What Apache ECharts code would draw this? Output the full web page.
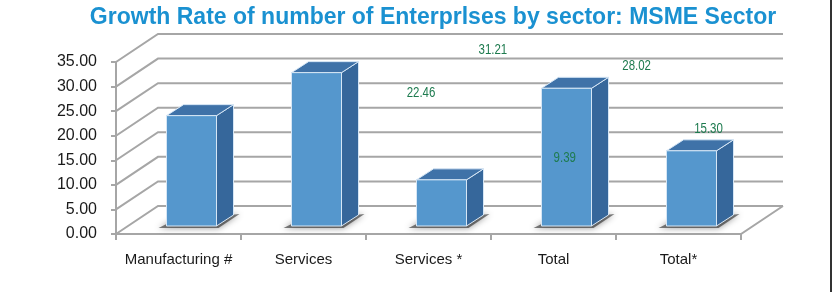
<!DOCTYPE html>
<html>
<head>
<meta charset="utf-8">
<script src="https://cdn.jsdelivr.net/npm/echarts@6/dist/echarts.min.js"></script>
<style>
  html, body { margin: 0; padding: 0; background: #ffffff; }
  #chart { width: 838px; height: 292px; }
</style>
</head>
<body>
<div id="chart"></div>
<script>
const categories = ['Manufacturing #', 'Services', 'Services *', 'Total', 'Total*']
const growthRates = [22.46, 31.21, 9.39, 28.02, 15.30]
const valueLabels = ['22.46', '31.21', '9.39', '28.02', '15.30']
const yTicks = [0, 5, 10, 15, 20, 25, 30, 35]

// 3d look: wall depth and bar depth in px
const WALL_DX = 42
const WALL_DY = -28
const BAR_DX = 17
const BAR_DY = -11
const GRID_COLOR = '#a6a6a6'

const chart = echarts.init(document.getElementById('chart'))

const renderWalls = (params, api) => {
  const v = api.value(0)
  const cs = params.coordSys
  const y = api.coord([0, v])[1]
  const left = cs.x
  const right = cs.x + cs.width
  const children = [
    {
      type: 'polyline',
      shape: { points: [[left, y], [left + WALL_DX, y + WALL_DY], [right + WALL_DX, y + WALL_DY]] },
      style: { stroke: GRID_COLOR, lineWidth: 2, fill: null }
    }
  ]
  if (v === 0) {
    children.push({
      type: 'polyline',
      shape: { points: [[left, y], [right, y], [right + WALL_DX, y + WALL_DY]] },
      style: { stroke: GRID_COLOR, lineWidth: 2, fill: null }
    })
  }
  return { type: 'group', children }
}

const renderBar = (params, api) => {
  const i = api.value(0)
  const v = api.value(1)
  const base = api.coord([i, 0])
  const top = api.coord([i, v])
  const bw = api.size([1, 0])[0] * 0.4
  const ox = 13
  const oy = -8
  const x0 = base[0] - bw / 2 + ox
  const x1 = x0 + bw
  const yb = base[1] + oy
  const yt = top[1] + oy
  const edge = { stroke: '#d6e6f5', lineWidth: 1 }
  return {
    type: 'group',
    children: [
      {
        type: 'polygon',
        shape: { points: [[x0 - 8, yb + 2], [x1 + 2, yb + 2], [x1 + BAR_DX + 6, yb + BAR_DY - 1], [x0 + 6, yb - 5]] },
        style: { fill: 'rgba(40,40,40,0.6)', shadowBlur: 6, shadowColor: 'rgba(0,0,0,0.7)' }
      },
      {
        type: 'polygon',
        shape: { points: [[x1, yb], [x1 + BAR_DX, yb + BAR_DY], [x1 + BAR_DX, yt + BAR_DY], [x1, yt]] },
        style: Object.assign({ fill: '#36679b' }, edge)
      },
      {
        type: 'polygon',
        shape: { points: [[x0, yt], [x0 + BAR_DX, yt + BAR_DY], [x1 + BAR_DX, yt + BAR_DY], [x1, yt]] },
        style: Object.assign({ fill: '#3f72a8' }, edge)
      },
      {
        type: 'rect',
        shape: { x: x0, y: yt, width: bw, height: yb - yt },
        style: Object.assign({ fill: '#5597cd' }, edge)
      }
    ]
  }
}

const renderLabel = (params, api) => {
  const i = api.value(0)
  const v = api.value(1)
  const cs = params.coordSys
  // the source puts its labels off the bars, spread between Services * and Total*
  const x = cs.x + cs.width * (0.488 + 0.115 * i)
  const y = api.coord([i, v])[1] + WALL_DY - 2
  return {
    type: 'text',
    x: x,
    y: y,
    scaleX: 0.82,
    style: {
      text: valueLabels[i],
      fill: '#1e7b4f',
      font: '14px "Liberation Sans", Arial, sans-serif',
      align: 'center',
      verticalAlign: 'middle'
    }
  }
}

chart.setOption({
  animation: false,
  title: {
    text: 'Growth Rate of number of Enterprlses by sector: MSME Sector',
    left: 428,
    textAlign: 'center',
    top: 1,
    textStyle: {
      color: '#1a91d1',
      fontSize: 23,
      fontWeight: 'bold',
      fontFamily: '"Liberation Sans", Arial, sans-serif'
    }
  },
  grid: {
    left: 116,
    right: 97,
    top: 62,
    bottom: 58
  },
  xAxis: {
    type: 'category',
    data: categories,
    axisLine: { show: false },
    axisTick: {
      show: true,
      length: 6,
      lineStyle: { color: GRID_COLOR, width: 2 }
    },
    axisLabel: {
      interval: 0,
      color: '#1a1a1a',
      fontSize: 15,
      fontFamily: '"Liberation Sans", Arial, sans-serif',
      margin: 18
    },
    splitLine: { show: false }
  },
  yAxis: {
    type: 'value',
    min: 0,
    max: 35,
    interval: 5,
    axisLine: { show: true, lineStyle: { color: GRID_COLOR, width: 2 } },
    axisTick: { show: true, length: 5, lineStyle: { color: GRID_COLOR, width: 2 } },
    axisLabel: {
      color: '#1a1a1a',
      fontSize: 16,
      fontFamily: '"Liberation Sans", Arial, sans-serif',
      margin: 19,
      formatter: (value) => value.toFixed(2)
    },
    splitLine: { show: false }
  },
  graphic: [
    {
      type: 'line',
      shape: { x1: 831, y1: 0, x2: 831, y2: 292 },
      style: { stroke: '#333333', lineWidth: 2 }
    }
  ],
  series: [
    {
      type: 'custom',
      name: 'walls',
      renderItem: renderWalls,
      data: yTicks.map((t) => [t]),
      encode: { y: 0 },
      silent: true,
      z: 1
    },
    {
      type: 'custom',
      name: 'bars',
      renderItem: renderBar,
      data: growthRates.map((v, i) => [i, v]),
      encode: { x: 0, y: 1 },
      z: 2
    },
    {
      type: 'custom',
      name: 'labels',
      renderItem: renderLabel,
      data: growthRates.map((v, i) => [i, v]),
      encode: { x: 0, y: 1 },
      z: 3
    }
  ]
})
</script>
</body>
</html>
